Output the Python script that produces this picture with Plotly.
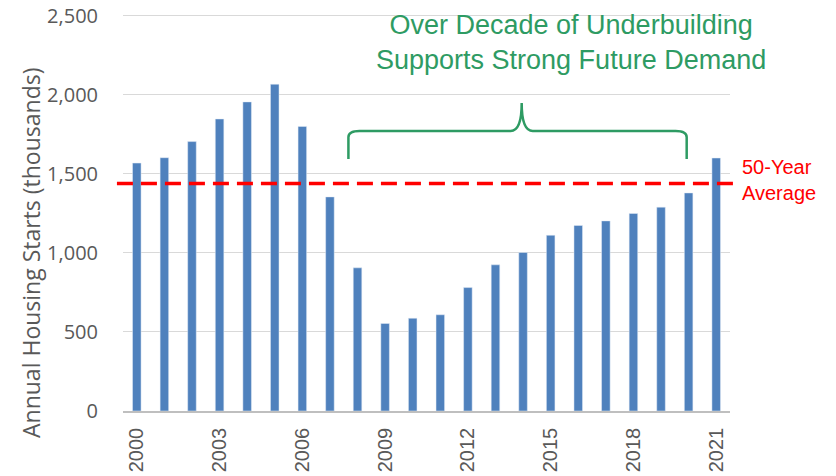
import plotly.graph_objects as go

years = list(range(2000, 2022))
starts = [1569, 1603, 1705, 1848, 1956, 2068, 1801, 1355, 906, 554, 587,
          609, 781, 925, 1003, 1112, 1174, 1203, 1250, 1290, 1380, 1601]
avg_50yr = 1440
tick_years = [2000, 2003, 2006, 2009, 2012, 2015, 2018, 2021]
y_ticks = [0, 500, 1000, 1500, 2000, 2500]

green = "#2E9B63"
red = "#FF0000"
gray = "#595959"

fig = go.Figure(
    go.Bar(x=years, y=starts, marker=dict(color="#4F81BD"), width=0.31)
)

# 50-year average line
fig.add_shape(type="line", xref="paper", yref="y", x0=-0.01, x1=1.008,
              y0=avg_50yr, y1=avg_50yr,
              line=dict(color=red, width=3.5, dash="16px,8px"))

# curly brace over the underbuilding years
bx0, bx1, btip = 2007.67, 2019.93, 2013.95
ylo, ymid, yhi = 1595, 1772, 1949
path = (f"M {bx0},{ylo} L {bx0},{ymid - 40} Q {bx0},{ymid} {bx0 + 0.4},{ymid} "
        f"L {btip - 0.4},{ymid} Q {btip},{ymid} {btip},{yhi} "
        f"Q {btip},{ymid} {btip + 0.4},{ymid} L {bx1 - 0.4},{ymid} "
        f"Q {bx1},{ymid} {bx1},{ymid - 40} L {bx1},{ylo}")
fig.add_shape(type="path", xref="x", yref="y", path=path,
              line=dict(color=green, width=2.5))

fig.add_annotation(text="Over Decade of Underbuilding<br>Supports Strong Future Demand",
                   xref="x", yref="paper", x=2015.72, y=1.01, yanchor="top",
                   showarrow=False, font=dict(color=green, size=27, family="Liberation Sans"))
fig.add_annotation(text="50-Year<br>Average", xref="paper", yref="y", x=1.0, y=avg_50yr,
                   xanchor="left", yanchor="middle", align="left", showarrow=False,
                   xshift=10, yshift=3, font=dict(color=red, size=20, family="Liberation Sans"))
fig.add_annotation(text="Annual Housing Starts (thousands)", xref="paper", yref="paper",
                   x=0, y=0.396, xanchor="center", yanchor="middle", xshift=-92,
                   textangle=-90, showarrow=False,
                   font=dict(size=23, color=gray, family="Open Sans"))

fig.update_layout(
    width=836, height=476,
    paper_bgcolor="white", plot_bgcolor="white",
    margin=dict(l=123, r=106, t=12, b=65),
    showlegend=False,
    xaxis=dict(range=[1999.5, 2021.5], tickvals=tick_years, tickangle=-90,
               tickfont=dict(size=20, color=gray, family="Liberation Sans"),
               ticklabelstandoff=7,
               showline=True, linecolor="#BFBFBF", linewidth=1.5,
               showgrid=False, ticks="", automargin=False),
    yaxis=dict(range=[0, 2525], tickvals=y_ticks, tickformat=",",
               tickfont=dict(size=20, color=gray, family="Open Sans"),
               ticklabelstandoff=24,
               gridcolor="#D9D9D9", gridwidth=1, zeroline=False, ticks="",
               automargin=False),
)

# page body has a default 8px margin; drop it so the figure sits at the corner
fig.write_html("out.html", config={"displayModeBar": False},
               post_script="document.body.style.margin = '0px';")
